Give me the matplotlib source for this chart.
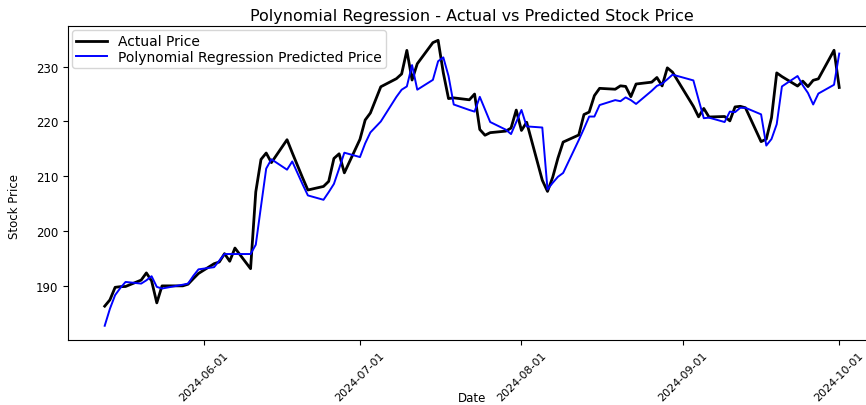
import matplotlib
matplotlib.use("Agg")
import matplotlib.pyplot as plt
import matplotlib.dates as mdates
import pandas as pd

# Trading days of the evaluation window
dates = [
    "2024-05-13", "2024-05-14", "2024-05-15", "2024-05-16", "2024-05-17",
    "2024-05-20", "2024-05-21", "2024-05-22", "2024-05-23", "2024-05-24",
    "2024-05-28", "2024-05-29", "2024-05-30", "2024-05-31",
    "2024-06-03", "2024-06-04", "2024-06-05", "2024-06-06", "2024-06-07",
    "2024-06-10", "2024-06-11", "2024-06-12", "2024-06-13", "2024-06-14",
    "2024-06-17", "2024-06-18", "2024-06-20", "2024-06-21",
    "2024-06-24", "2024-06-25", "2024-06-26", "2024-06-27", "2024-06-28",
    "2024-07-01", "2024-07-02", "2024-07-03", "2024-07-05",
    "2024-07-08", "2024-07-09", "2024-07-10", "2024-07-11", "2024-07-12",
    "2024-07-15", "2024-07-16", "2024-07-17", "2024-07-18", "2024-07-19",
    "2024-07-22", "2024-07-23", "2024-07-24", "2024-07-25", "2024-07-26",
    "2024-07-29", "2024-07-30", "2024-07-31", "2024-08-01", "2024-08-02",
    "2024-08-05", "2024-08-06", "2024-08-07", "2024-08-08", "2024-08-09",
    "2024-08-12", "2024-08-13", "2024-08-14", "2024-08-15", "2024-08-16",
    "2024-08-19", "2024-08-20", "2024-08-21", "2024-08-22", "2024-08-23",
    "2024-08-26", "2024-08-27", "2024-08-28", "2024-08-29", "2024-08-30",
    "2024-09-03", "2024-09-04", "2024-09-05", "2024-09-06",
    "2024-09-09", "2024-09-10", "2024-09-11", "2024-09-12", "2024-09-13",
    "2024-09-16", "2024-09-17", "2024-09-18", "2024-09-19", "2024-09-20",
    "2024-09-23", "2024-09-24", "2024-09-25", "2024-09-26", "2024-09-27",
    "2024-09-30", "2024-10-01",
]

# Closing prices
actual_price = [
    186.28, 187.43, 189.72, 189.84, 189.87,
    191.04, 192.35, 190.90, 186.88, 189.98,
    189.99, 190.29, 191.29, 192.25,
    194.03, 194.35, 195.87, 194.48, 196.89,
    193.12, 207.15, 213.07, 214.24, 212.49,
    216.67, 214.29, 209.68, 207.49,
    208.14, 209.07, 213.25, 214.10, 210.62,
    216.75, 220.27, 221.55, 226.34,
    227.82, 228.68, 232.98, 227.57, 230.54,
    234.40, 234.82, 228.88, 224.18, 224.31,
    223.96, 225.01, 218.54, 217.49, 217.96,
    218.24, 218.80, 222.08, 218.36, 219.86,
    209.27, 207.23, 209.82, 213.31, 216.24,
    217.53, 221.27, 221.72, 224.72, 226.05,
    225.89, 226.51, 226.40, 224.53, 226.84,
    227.18, 228.03, 226.49, 229.79, 229.00,
    222.77, 220.85, 222.38, 220.82,
    220.91, 220.11, 222.66, 222.77, 222.50,
    216.32, 216.79, 220.69, 228.87, 228.20,
    226.47, 227.37, 226.37, 227.52, 227.79,
    233.00, 226.21,
]

# Polynomial regression output for the same days
predicted_price = [
    182.7, 185.8, 188.3, 189.6, 190.7,
    190.4, 191.0, 191.75, 189.8, 189.5,
    190.2, 190.4, 191.8, 193.0,
    193.4, 194.6, 195.8, 195.8, 195.8,
    195.8, 197.5, 204.5, 211.4, 213.1,
    211.2, 212.7, 208.5, 206.5,
    205.7, 207.1, 208.6, 211.4, 214.3,
    213.5, 216.0, 218.0, 220.0,
    224.5, 225.8, 226.4, 230.3, 225.8,
    227.6, 231.0, 231.7, 228.3, 223.1,
    222.1, 221.8, 224.5, 222.2, 219.9,
    218.5, 217.7, 219.9, 222.1, 219.1,
    218.9, 207.6, 208.8, 209.9, 210.6,
    216.6, 218.7, 220.9, 220.9, 223.0,
    223.9, 223.7, 224.4, 223.9, 223.2,
    225.6, 226.5, 226.9, 227.7, 228.55,
    227.5, 224.0, 220.6, 220.7,
    219.9, 221.8, 221.7, 222.5, 222.5,
    221.3, 215.6, 216.8, 219.5, 226.4,
    228.3, 226.6, 225.2, 223.1, 225.1,
    226.7, 232.4,
]

x = pd.to_datetime(dates)

fig = plt.figure(figsize=(8.66, 4.06), dpi=100)
ax = fig.add_axes([0.0785, 0.160, 0.933, 0.7734])

ax.plot(x, actual_price, color="black", linewidth=2.0, label="Actual Price")
ax.plot(x, predicted_price, color="blue", linewidth=1.4,
        label="Polynomial Regression Predicted Price")

ax.set_title("Polynomial Regression - Actual vs Predicted Stock Price",
             fontsize=11.5, pad=4)
ax.set_xlabel("Date", fontsize=8.5)
ax.xaxis.set_label_coords(0.5, -0.163)
ax.set_ylabel("Stock Price", fontsize=8.5)
ax.yaxis.set_label_coords(-0.058, 0.43)

ax.xaxis.set_major_locator(mdates.MonthLocator())
ax.xaxis.set_major_formatter(mdates.DateFormatter("%Y-%m-%d"))
ax.tick_params(axis="x", labelsize=8, rotation=45)
ax.tick_params(axis="y", labelsize=8.5)
ax.set_yticks([190, 200, 210, 220, 230])

ax.legend(loc="upper left", fontsize=10, labelspacing=0.1,
          borderpad=0.3, borderaxespad=0.3, handlelength=2.2)

fig.savefig("out.png", dpi=100)
